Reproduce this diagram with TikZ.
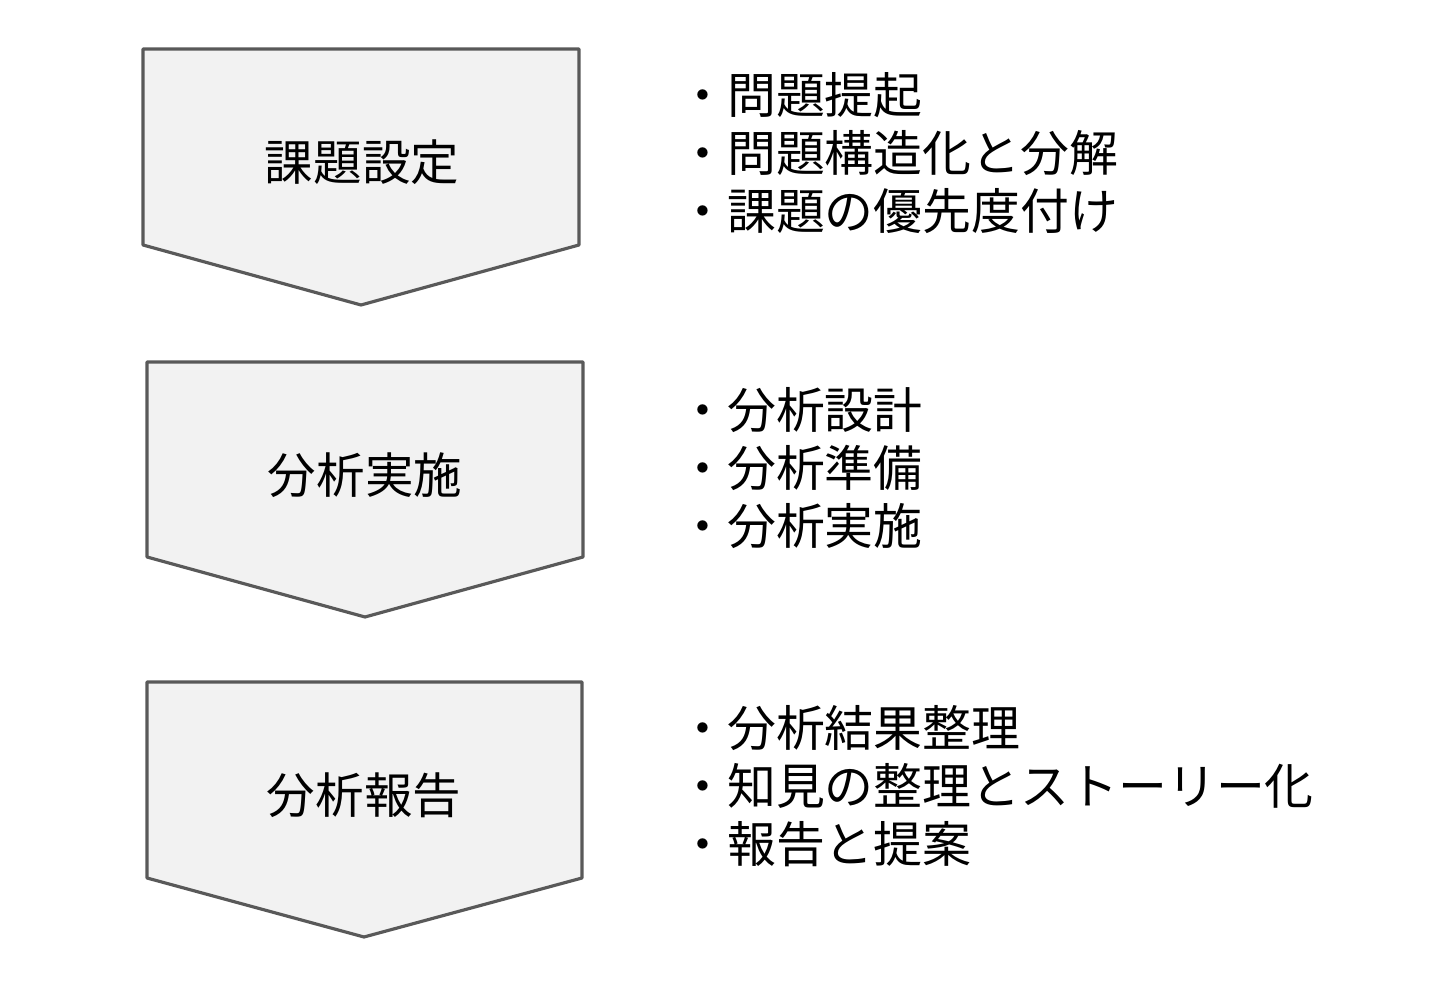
\documentclass[tikz,border=0pt]{standalone}
\usepackage{fontspec}
\setmainfont{Noto Sans CJK JP}
\usetikzlibrary{positioning}
\tikzset{every picture/.style={line width=0.75pt}}
\tikzset{
    stepshape/.style={draw=black!65, fill=black!5, line width=0.9pt, line join=round},
    steplabel/.style={font=\fontsize{13.8}{16}\selectfont},
    itemlist/.style={anchor=west, align=left, inner sep=0pt, font=\fontsize{13.9}{16.5}\selectfont}
}

\begin{document}
\begin{tikzpicture}[x=0.01cm, y=-0.01cm]
    \useasboundingbox (0,0) rectangle (1440,983);
    % step shapes
    \draw[stepshape] (143,49) -- (579,49) -- (579,245) -- (361,305) -- (143,245) -- cycle;
    \draw[stepshape] (147,362) -- (583,362) -- (583,557) -- (365,617) -- (147,557) -- cycle;
    \draw[stepshape] (147,682) -- (582,682) -- (582,878) -- (364,937) -- (147,878) -- cycle;
    \node[steplabel] (kadai) at (362,162) {課題設定};
    \node[steplabel] (jisshi) at (365,475) {分析実施};
    \node[steplabel] (houkoku) at (364,795) {分析報告};
    % item lists
    \node[itemlist] (list1) at (677,153) {・問題提起\\・問題構造化と分解\\・課題の優先度付け};
    \node[itemlist] (list2) at (677,468) {・分析設計\\・分析準備\\・分析実施};
    \node[itemlist] (list3) at (677,786) {・分析結果整理\\・知見の整理とストーリー化\\・報告と提案};
\end{tikzpicture}
\end{document}
